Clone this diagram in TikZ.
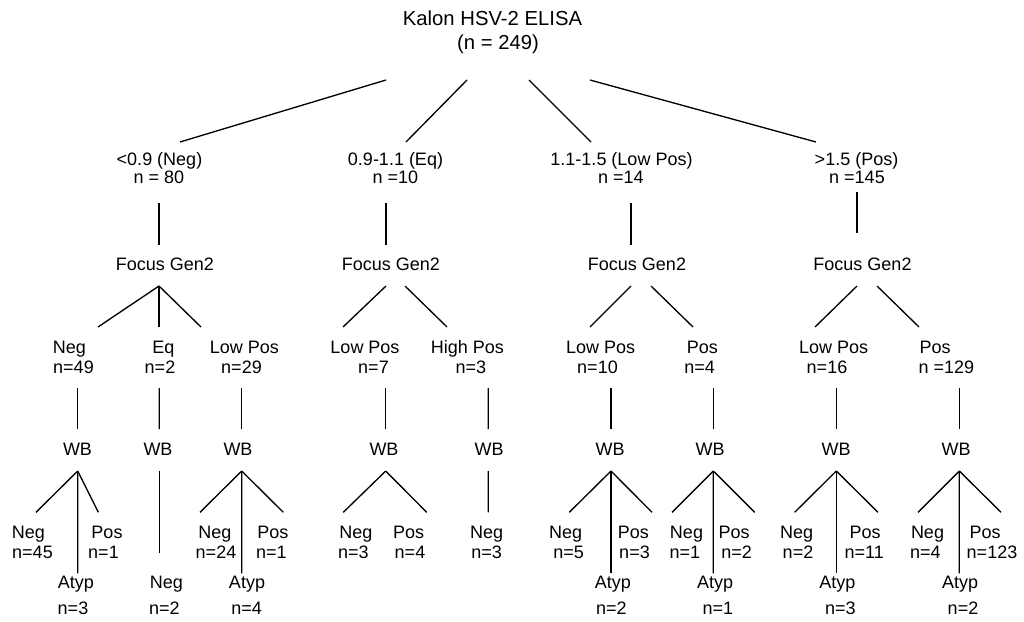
\documentclass[tikz,border=0pt]{standalone}
\usepackage{fontspec}
\setmainfont{Liberation Sans}
\usetikzlibrary{calc}
\newcommand\lnk[4]{\draw[conn] ($(#1)+(#2)$) -- ($(#3)+(#4)$);}
\begin{document}
\begin{tikzpicture}[x=0.75pt,y=-0.75pt,
  lbl/.style={anchor=base,inner sep=0pt,font=\fontsize{13.5}{16}\selectfont},
  ttl/.style={anchor=base,inner sep=0pt,font=\fontsize{15.2}{18}\selectfont},
  conn/.style={line width=1pt,black}]
\useasboundingbox[fill=white] (0,0) rectangle (1024,621);
% root
\node[ttl] (root) at (492.5,26) {Kalon HSV-2 ELISA};
\node[ttl] (rootn) at (498,49) {(n = 249)};
% level 1
\node[lbl] (a) at (159.5,165.7) {<0.9 (Neg)};
\node[lbl] (an) at (159,183.3) {n = 80};
\node[lbl] (b) at (395.5,165.7) {0.9-1.1 (Eq)};
\node[lbl] (bn) at (395.5,183.3) {n =10};
\node[lbl] (c) at (621.5,165.7) {1.1-1.5 (Low Pos)};
\node[lbl] (cn) at (621,183.3) {n =14};
\node[lbl] (d) at (856.5,165.7) {>1.5 (Pos)};
\node[lbl] (dn) at (857,183.3) {n =145};
\lnk{root.base}{-106.5,54}{a.base}{20.5,-23.7}
\lnk{root.base}{-25.5,54}{b.base}{10.5,-23.7}
\lnk{root.base}{36.5,54}{c.base}{-30.5,-23.7}
\lnk{root.base}{97.5,54}{d.base}{-40.5,-23.7}
% Focus Gen2
\node[lbl] (fa) at (165,270.7) {Focus Gen2};
\node[lbl] (fb) at (391,270.7) {Focus Gen2};
\node[lbl] (fc) at (637,270.7) {Focus Gen2};
\node[lbl] (fd) at (862.5,270.7) {Focus Gen2};
\lnk{an.base}{0,19.7}{fa.base}{-6,-25.7}
\lnk{bn.base}{-9.5,19.7}{fb.base}{-5,-25.7}
\lnk{cn.base}{10,19.7}{fc.base}{-6,-25.7}
\lnk{dn.base}{0,8.7}{fd.base}{-5.5,-37.7}
% level 2
\node[lbl] (a1) at (69.5,353.3) {Neg};
\node[lbl] (a1n) at (73.5,373.3) {n=49};
\node[lbl] (a2) at (163.5,353.3) {Eq};
\node[lbl] (a2n) at (160,373.3) {n=2};
\node[lbl] (a3) at (244.5,353.3) {Low Pos};
\node[lbl] (a3n) at (241.5,373.3) {n=29};
\node[lbl] (b1) at (365,353.3) {Low Pos};
\node[lbl] (b1n) at (373.5,373.3) {n=7};
\node[lbl] (b2) at (467.5,353.3) {High Pos};
\node[lbl] (b2n) at (470.8,373.3) {n=3};
\node[lbl] (c1) at (600.7,353.3) {Low Pos};
\node[lbl] (c1n) at (597.5,373.3) {n=10};
\node[lbl] (c2) at (702.3,353.3) {Pos};
\node[lbl] (c2n) at (699.7,373.3) {n=4};
\node[lbl] (d1) at (833.7,353.3) {Low Pos};
\node[lbl] (d1n) at (827,373.3) {n=16};
\node[lbl] (d2) at (935,353.3) {Pos};
\node[lbl] (d2n) at (946.3,373.3) {n =129};
\lnk{fa.base}{-6,15.3}{a1.base}{28.5,-26.3}
\lnk{fa.base}{-6,15.3}{a2.base}{-4.5,-26.3}
\lnk{fa.base}{-6,15.3}{a3.base}{-43.5,-26.3}
\lnk{fb.base}{-5,15.3}{b1.base}{-22,-26.3}
\lnk{fb.base}{14,15.3}{b2.base}{-20.5,-26.3}
\lnk{fc.base}{-6,15.3}{c1.base}{-10.7,-26.3}
\lnk{fc.base}{14,15.3}{c2.base}{-9.3,-26.3}
\lnk{fd.base}{-5.5,15.3}{d1.base}{-18.7,-26.3}
\lnk{fd.base}{14.5,15.3}{d2.base}{-16,-26.3}
% WB
\node[lbl] (wa1) at (77.5,455) {WB};
\node[lbl] (wa2) at (158,455) {WB};
\node[lbl] (wa3) at (238,455) {WB};
\node[lbl] (wb1) at (384,455) {WB};
\node[lbl] (wb2) at (489,455) {WB};
\node[lbl] (wc1) at (610,455) {WB};
\node[lbl] (wc2) at (710,455) {WB};
\node[lbl] (wd1) at (836,455) {WB};
\node[lbl] (wd2) at (956,455) {WB};
\lnk{a1n.base}{4.2,14.7}{wa1.base}{0.2,-26}
\lnk{a2n.base}{-0.7,14.7}{wa2.base}{1.3,-26}
\lnk{a3n.base}{0.2,14.7}{wa3.base}{3.7,-26}
\lnk{b1n.base}{12.2,14.7}{wb1.base}{1.7,-26}
\lnk{b2n.base}{17.5,14.7}{wb2.base}{-0.7,-26}
\lnk{c1n.base}{13.5,14.7}{wc1.base}{1,-26}
\lnk{c2n.base}{13.6,14.7}{wc2.base}{3.3,-26}
\lnk{d1n.base}{9.3,14.7}{wd1.base}{0.3,-26}
\lnk{d2n.base}{13,14.7}{wd2.base}{3.3,-26}
% leaves
\node[lbl] (l1) at (28.3,538.3) {Neg};
\node[lbl] (l1n) at (32.5,558.7) {n=45};
\node[lbl] (l2) at (107,538.3) {Pos};
\node[lbl] (l2n) at (103.5,558.7) {n=1};
\node[lbl] (l3) at (75.8,588.3) {Atyp};
\node[lbl] (l3n) at (73,614) {n=3};
\lnk{wa1.base}{0.2,16}{l1.base}{7.7,-26}
\lnk{wa1.base}{0.2,16}{l2.base}{-8.7,-26}
\lnk{wa1.base}{0.2,16}{l3.base}{1.9,-15}
\node[lbl] (m1) at (166.3,588.3) {Neg};
\node[lbl] (m1n) at (164.3,614) {n=2};
\lnk{wa2.base}{1.3,16}{m1.base}{-7,-35}
\node[lbl] (p1) at (215,538.3) {Neg};
\node[lbl] (p1n) at (216,558.7) {n=24};
\node[lbl] (p2) at (272.8,538.3) {Pos};
\node[lbl] (p2n) at (271.3,558.7) {n=1};
\node[lbl] (p3) at (247,588.3) {Atyp};
\node[lbl] (p3n) at (246.7,614) {n=4};
\lnk{wa3.base}{3.7,16}{p1.base}{-15,-26}
\lnk{wa3.base}{3.7,16}{p2.base}{10.5,-26}
\lnk{wa3.base}{3.7,16}{p3.base}{-5.3,-15}
\node[lbl] (q1) at (355.8,538.3) {Neg};
\node[lbl] (q1n) at (353.3,558.7) {n=3};
\node[lbl] (q2) at (408.7,538.3) {Pos};
\node[lbl] (q2n) at (410,558.7) {n=4};
\lnk{wb1.base}{1.7,16}{q1.base}{-12.5,-26}
\lnk{wb1.base}{1.7,16}{q2.base}{18,-26}
\node[lbl] (r1) at (486.7,538.3) {Neg};
\node[lbl] (r1n) at (486.7,558.7) {n=3};
\lnk{wb2.base}{-0.7,16}{r1.base}{1.6,-26}
\node[lbl] (s1) at (565.7,538.3) {Neg};
\node[lbl] (s1n) at (568.7,558.7) {n=5};
\node[lbl] (s2) at (633.3,538.3) {Pos};
\node[lbl] (s2n) at (634.5,558.7) {n=3};
\node[lbl] (s3) at (612.8,588.3) {Atyp};
\node[lbl] (s3n) at (611.3,614) {n=2};
\lnk{wc1.base}{1,16}{s1.base}{3.6,-26}
\lnk{wc1.base}{1,16}{s2.base}{18.7,-26}
\lnk{wc1.base}{1,16}{s3.base}{-1.8,-15}
\node[lbl] (t1) at (686.5,538.3) {Neg};
\node[lbl] (t1n) at (684.8,558.7) {n=1};
\node[lbl] (t2) at (734,538.3) {Pos};
\node[lbl] (t2n) at (736.7,558.7) {n=2};
\node[lbl] (t3) at (715.2,588.3) {Atyp};
\node[lbl] (t3n) at (717.8,614) {n=1};
\lnk{wc2.base}{3.3,16}{t1.base}{-14.5,-26}
\lnk{wc2.base}{3.3,16}{t2.base}{20.7,-26}
\lnk{wc2.base}{3.3,16}{t3.base}{-1.9,-15}
\node[lbl] (u1) at (796.7,538.3) {Neg};
\node[lbl] (u1n) at (798,558.7) {n=2};
\node[lbl] (u2) at (865,538.3) {Pos};
\node[lbl] (u2n) at (864.2,558.7) {n=11};
\node[lbl] (u3) at (837.3,588.3) {Atyp};
\node[lbl] (u3n) at (840.3,614) {n=3};
\lnk{wd1.base}{0.3,16}{u1.base}{-2,-26}
\lnk{wd1.base}{0.3,16}{u2.base}{13,-26}
\lnk{wd1.base}{0.3,16}{u3.base}{-1,-15}
\node[lbl] (v1) at (927.5,538.3) {Neg};
\node[lbl] (v1n) at (925.3,558.7) {n=4};
\node[lbl] (v2) at (985,538.3) {Pos};
\node[lbl] (v2n) at (992,558.7) {n=123};
\node[lbl] (v3) at (960,588.3) {Atyp};
\node[lbl] (v3n) at (963,614) {n=2};
\lnk{wd2.base}{3.3,16}{v1.base}{-9.5,-26}
\lnk{wd2.base}{3.3,16}{v2.base}{16,-26}
\lnk{wd2.base}{3.3,16}{v3.base}{-0.7,-15}
\end{tikzpicture}
\end{document}
